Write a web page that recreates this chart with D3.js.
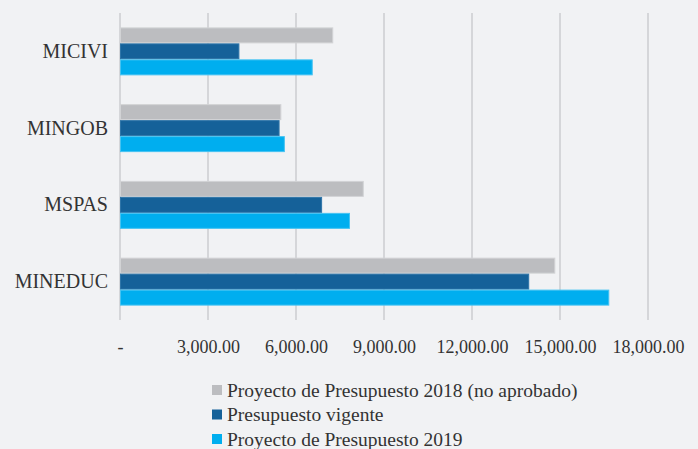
<!DOCTYPE html>
<html>
<head>
<meta charset="utf-8">
<script src="https://cdn.jsdelivr.net/npm/d3@7"></script>
<style>
  body { margin: 0; background: #f1f2f4; }
  text { font-family: "Liberation Serif", "DejaVu Serif", serif; fill: #333; }
</style>
</head>
<body>
<div id="chart"></div>
<script>
var width = 698,
    height = 449;

// data (millones de quetzales)
var categories = ["MICIVI", "MINGOB", "MSPAS", "MINEDUC"];
var seriesNames = ["Proyecto de Presupuesto 2018 (no aprobado)", "Presupuesto vigente", "Proyecto de Presupuesto 2019"];
var proyecto2018 = [7270, 5500, 8310, 14840];
var vigente = [4070, 5440, 6890, 13950];
var proyecto2019 = [6570, 5620, 7840, 16680];
var tickValues = [0, 3000, 6000, 9000, 12000, 15000, 18000];

var colors = ["#bcbdc0", "#156199", "#00aeef"],
    strokes = ["#d2d3d5", "#2f75a8", "#45c3f2"];

var series = [proyecto2018, vigente, proyecto2019];

var plotLeft = 120, plotRight = 648,
    plotTop = 13, plotBottom = 320;

var x = d3.scaleLinear()
  .domain([0, 18000])
  .range([plotLeft, plotRight]);

var y = d3.scaleBand()
  .domain(categories)
  .range([plotTop, plotBottom])
  .paddingInner(0.375)
  .paddingOuter(0.1875);

var ySub = d3.scaleBand()
  .domain(d3.range(series.length))
  .range([0, y.bandwidth()]);

var fmt = function(v) { return v === 0 ? "-" : d3.format(",.2f")(v); };

var svg = d3.select("#chart")
  .append("svg")
  .attr("width", width)
  .attr("height", height);

svg.append("rect")
  .attr("width", width)
  .attr("height", height)
  .style("fill", "#f1f2f4");

// gridlines
svg.append("g")
  .selectAll("line")
  .data(tickValues)
  .join("line")
  .attr("x1", function(d) { return x(d); })
  .attr("x2", function(d) { return x(d); })
  .attr("y1", plotTop)
  .attr("y2", plotBottom)
  .style("stroke", "#d5d6d9")
  .style("stroke-width", "2px");

// bars
var groups = svg.append("g")
  .selectAll("g")
  .data(categories)
  .join("g")
  .attr("transform", function(d) { return "translate(0," + y(d) + ")"; });

groups.selectAll("rect")
  .data(function(d, i) { return series.map(function(s, j) { return { s: j, v: s[i] }; }); })
  .join("rect")
  .attr("x", x(0) + 0.5)
  .attr("y", function(d) { return ySub(d.s) + 0.5; })
  .attr("width", function(d) { return x(d.v) - x(0) - 1; })
  .attr("height", ySub.bandwidth() - 1)
  .style("fill", function(d) { return colors[d.s]; })
  .style("stroke", function(d) { return strokes[d.s]; })
  .style("stroke-width", "1px");

// category axis
var yAxis = d3.axisLeft(y).tickSize(0).tickPadding(12);
svg.append("g")
  .attr("transform", "translate(" + plotLeft + ",0)")
  .call(yAxis)
  .call(function(g) { g.select(".domain").remove(); })
  .selectAll("text")
  .style("font-size", "20px")
  .style("font-family", "Liberation Serif, serif")
  .attr("fill", "#333");

// value axis
var xAxis = d3.axisBottom(x).tickValues(tickValues).tickFormat(fmt).tickSize(0).tickPadding(0);
svg.append("g")
  .attr("transform", "translate(0," + (plotBottom + 20) + ")")
  .call(xAxis)
  .call(function(g) { g.select(".domain").remove(); })
  .selectAll("text")
  .style("font-size", "18px")
  .style("font-family", "Liberation Serif, serif")
  .attr("fill", "#333");

// legend
var legend = svg.append("g")
  .attr("transform", "translate(212,385)");

var item = legend.selectAll("g")
  .data(seriesNames)
  .join("g")
  .attr("transform", function(d, i) { return "translate(0," + i * 24.5 + ")"; });

item.append("rect")
  .attr("width", 10)
  .attr("height", 10)
  .attr("y", 0)
  .style("fill", function(d, i) { return colors[i]; });

item.append("text")
  .attr("x", 15)
  .attr("y", 5)
  .attr("dy", "0.35em")
  .style("font-size", "19.5px")
  .text(function(d) { return d; });
</script>
</body>
</html>
